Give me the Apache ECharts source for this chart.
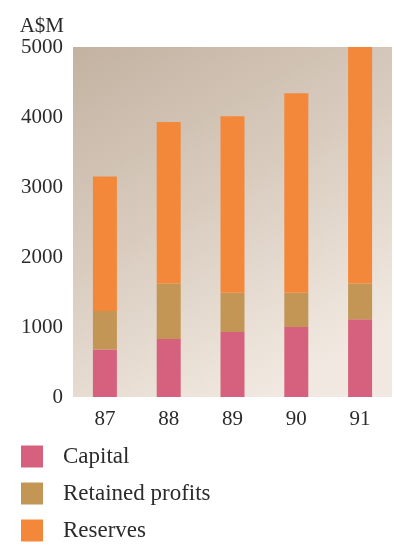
<!DOCTYPE html>
<html>
<head>
<meta charset="utf-8">
<script src="https://cdn.jsdelivr.net/npm/echarts@6/dist/echarts.min.js"></script>
<style>
  html, body { margin: 0; padding: 0; background: #ffffff; }
  #chart { width: 394px; height: 545px; }
</style>
</head>
<body>
<div id="chart"></div>
<script>
// Shareholders' funds by financial year, A$ millions
const years = ['87', '88', '89', '90', '91'];
const capital = [680, 830, 930, 1000, 1110];
const retainedProfits = [550, 790, 560, 490, 510];
const reserves = [1920, 2310, 2520, 2850, 3380];
const yTicks = [0, 1000, 2000, 3000, 4000, 5000];

const serif = '"Liberation Serif", "DejaVu Serif", serif';
const ink = '#2b2b2b';

const chart = echarts.init(document.getElementById('chart'), null, { renderer: 'canvas' });

function stackSeries(name, data, color) {
  return {
    name: name,
    type: 'bar',
    stack: 'funds',
    data: data,
    barWidth: 24,
    itemStyle: { color: color },
    emphasis: { disabled: true }
  };
}

chart.setOption({
  animation: false,
  grid: {
    left: 73,
    right: 2,
    top: 47,
    bottom: 148,
    show: true,
    borderWidth: 0,
    backgroundColor: {
      type: 'linear', x: 0, y: 0, x2: 0.6, y2: 1,
      colorStops: [
        { offset: 0, color: '#c3b2a1' },
        { offset: 0.5, color: '#d9ccbf' },
        { offset: 1, color: '#f1e9e1' }
      ]
    }
  },
  legend: {
    orient: 'vertical',
    left: 21,
    top: 445,
    height: 120,
    padding: 0,
    itemWidth: 22,
    itemHeight: 22,
    itemGap: 14,
    icon: 'rect',
    selectedMode: false,
    data: ['Capital', 'Retained profits', 'Reserves'],
    textStyle: {
      fontFamily: serif,
      fontSize: 23,
      color: ink,
      padding: [0, 0, 0, 15]
    }
  },
  xAxis: {
    type: 'category',
    data: years,
    axisLine: { show: false },
    axisTick: { show: false },
    axisLabel: {
      margin: 12,
      fontFamily: serif,
      fontSize: 21,
      color: ink
    }
  },
  yAxis: {
    type: 'value',
    min: yTicks[0],
    max: yTicks[yTicks.length - 1],
    interval: yTicks[1] - yTicks[0],
    name: 'A$M',
    nameLocation: 'end',
    nameGap: 10,
    nameTextStyle: {
      fontFamily: serif,
      fontSize: 21,
      color: ink,
      align: 'right',
      padding: [0, 9, 0, 0]
    },
    axisLine: { show: false },
    axisTick: { show: false },
    splitLine: { show: false },
    axisLabel: {
      margin: 10,
      fontFamily: serif,
      fontSize: 21,
      color: ink,
      formatter: function (v) { return String(v); }
    }
  },
  series: [
    stackSeries('Capital', capital, '#d6617f'),
    stackSeries('Retained profits', retainedProfits, '#c39656'),
    stackSeries('Reserves', reserves, '#f4883a')
  ]
});
</script>
</body>
</html>
